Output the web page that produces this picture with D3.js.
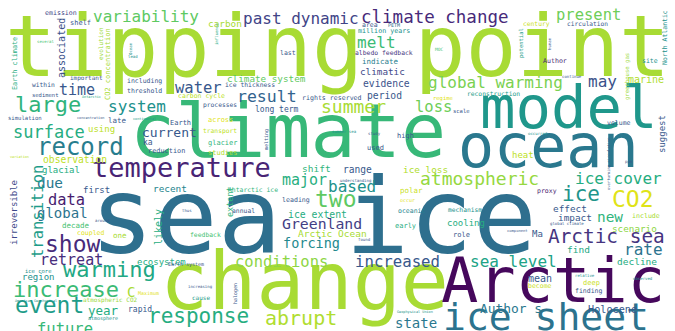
<!DOCTYPE html>
<html><head><meta charset="utf-8">
<script src="https://cdn.jsdelivr.net/npm/d3@7"></script>
<style>html,body{margin:0;padding:0;background:#fff;}svg{display:block}</style>
</head><body>
<svg id="chart" width="675" height="331"></svg>
<script>
// words of the cloud
const words = [
"tipping point","climate","sea ice","change","Arctic","model","ocean","ice sheet","temperature","CO2",
"ice","ice cover","atmospheric","two","major","record","large","system","surface","water",
"result","past dynamic","climate change","present","variability","melt","global warming","summer","loss","may",
"show","retreat","warming","increase","event","future","response","abrupt","conditions","increased",
"Greenland","forcing","Arctic sea","rate","sea level","new","state","data","due","global",
"transition","time","Author s","based","current","Holocene","decline","scenario","find","mean",
"effect","impact","heat","marine","site","Author","circulation","century","North Atlantic","greenhouse gas",
"potential","reconstruction","regime","scale","period","evidence","climatic","indicate","albedo feedback","million years",
"area","PETM","MOC","rights reserved","carbon cycle","processes","long term","ice thickness","climate system","last",
"carbon","shelf","emission","associated","evolution","CO2 concentration","Earth climate","important","within","sediment",
"including","threshold","simulation","late","using","ka","reduction","observation","glacial","first",
"recent","irreversible","likely","decade","coupled","one","ecosystem","ice core","region","C",
"Maximum","atmospheric CO2","year","rapid","atmosphere","Earth","across","transport","glacier","studies",
"melting","extent","Antarctic ice","leading","ice extent","annual","shift","range","ice loss","high",
"used","polar","occur","mechanism","oceanic","cooling","early","role","Arctic Ocean","feedback",
"Earth system","increasing","cause","halogen","proxy","volume","suggest","include","Ma","deep",
"become","finding","several","occurred","overturning circulation","component","global climate","relative","observed","Geophysical Union",
"American Geophysical","variation","understanding","study","summer sea","concentration","continental","Antarctic","thus","influence",
"human","continue","around","found","ppm","Ocean","lead"
];
// relative frequency (drawn as font size)
const weights = [
85,75,106,80,62,59,60,38,27,23,
21,16,18,23,15,24,22,16,17,15.5,
16.5,16,17.5,15.5,16,16,16,18,15.5,16,
23,15,22,22,23,15.5,21,20,15.5,15.7,
14.8,13.5,19.4,16,16,14.4,14,15.4,14.4,14,
15.5,15,12.9,16,13,10.2,9.5,9.3,9.5,10,
9.4,9.4,9,10,6.5,6.6,6.2,6.3,6.5,5.6,
5.5,6.3,5.5,5.5,9.7,9.7,9.3,7.5,6.4,6.7,
6.5,5,4.5,6.6,6.5,6.3,8,6.4,9.3,6.5,
9.4,7,6.6,10,6,7,6.8,6,6.3,5.5,
6.5,6.5,5.6,7.5,9,8,6.9,9.7,9,9,
9.4,9,10,7.5,6.5,7.5,9,5.5,9,14,
5,6,12.5,8,5,7,7,6.3,7,7,
5,8.5,6.4,6.6,9.8,6.4,9.5,9.6,9.4,7,
7,7.5,5,6.3,6.5,9,7,7,9.5,6.4,
5,4,6,5,6.5,6.5,9,6.6,9,7,
6.5,6.5,4,4,3.8,3.8,4,4,4,3.5,
3.5,3.5,4,4,4,3.5,3.5,3.5,4,4,
4,4,4,4,4,4,4
];
// position on the viridis colour map
const tones = [
.87,.67,.36,.87,.02,.53,.40,.38,.10,.95,
.52,.62,.84,.75,.63,.42,.65,.50,.62,.27,
.32,.20,.12,.78,.75,.68,.80,.87,.78,.25,
.12,.13,.60,.68,.55,.67,.62,.88,.83,.27,
.18,.47,.15,.38,.58,.65,.40,.08,.40,.38,
.55,.27,.40,.50,.27,.27,.62,.83,.60,.27,
.27,.27,.90,.88,.50,.08,.27,.92,.50,.85,
.55,.55,.95,.27,.27,.25,.22,.42,.15,.50,
.27,.35,.70,.27,.90,.27,.27,.27,.75,.27,
.87,.27,.20,.25,.85,.87,.62,.27,.27,.27,
.27,.27,.27,.27,.90,.27,.27,.90,.62,.27,
.45,.22,.62,.70,.95,.87,.62,.50,.50,.87,
.95,.85,.62,.27,.50,.27,.95,.90,.65,.88,
.27,.65,.65,.27,.62,.27,.65,.27,.88,.27,
.27,.92,.95,.50,.45,.62,.62,.27,.87,.70,
.27,.27,.55,.27,.08,.27,.27,.87,.27,.92,
.92,.27,.70,.50,.27,.27,.27,.50,.50,.50,
.50,.90,.27,.27,.50,.27,.55,.60,.27,.60,
.27,.27,.27,.27,.27,.50,.50
];
// cloud layout: [x, baseline y, vertical]
const cloudLayout = [
[5,76,0],[130,157,0],[90,253,0],[160,309,0],[441,302,0],[480,128,0],[458,167,0],[443,330,0],[92,177,0],[612,207,0],
[562,201,0],[575,184,0],[420,185,0],[315,207,0],[282,185,0],[37,155,0],[15,112,0],[108,112,0],[13,138,0],[175,93,0],
[237,102,0],[243,24,0],[361,23,0],[556,20,0],[93,22,0],[357,48,0],[428,88,0],[321,113,0],[415,112,0],[588,87,0],
[45,252,0],[40,265,0],[63,277,0],[13,297,0],[15,313,0],[37,334,0],[148,323,0],[265,325,0],[235,267,0],[355,267,0],
[282,229,0],[283,248,0],[548,243,0],[624,255,0],[470,267,0],[597,222,0],[395,328,0],[48,205,0],[37,188,0],[37,218,0],
[43,258,1],[59,95,0],[480,313,0],[328,192,0],[142,137,0],[588,313,0],[617,265,0],[612,232,0],[567,253,0],[528,282,0],
[553,212,0],[558,221,0],[512,158,0],[628,83,0],[642,63,0],[543,63,0],[567,26,0],[523,26,0],[667,65,1],[629,100,1],
[523,58,1],[467,96,0],[433,100,0],[453,113,0],[367,99,0],[363,87,0],[360,75,0],[362,64,0],[355,55,0],[358,33,0],
[362,27,0],[388,27,0],[435,51,0],[302,100,0],[178,98,0],[203,107,0],[255,112,0],[225,87,0],[227,82,0],[280,55,0],
[208,27,0],[70,25,0],[45,15,0],[65,78,1],[103,60,1],[110,100,1],[17,90,1],[70,80,0],[32,87,0],[32,97,0],
[127,83,0],[127,93,0],[8,120,0],[108,123,0],[88,132,0],[143,145,0],[148,153,0],[43,163,0],[42,173,0],[83,193,0],
[153,192,0],[17,245,1],[162,245,1],[62,228,0],[77,235,0],[113,238,0],[137,265,0],[25,273,0],[22,280,0],[127,297,0],
[138,295,0],[83,302,0],[88,315,0],[128,312,0],[88,320,0],[170,125,0],[208,122,0],[203,133,0],[208,145,0],[208,155,0],
[268,150,1],[233,217,1],[228,192,0],[282,202,0],[288,218,0],[232,213,0],[302,172,0],[343,173,0],[403,173,0],[397,138,0],
[367,150,0],[400,193,0],[400,202,0],[448,212,0],[398,213,0],[447,226,0],[395,228,0],[453,237,0],[298,237,0],[190,237,0],
[168,266,0],[188,288,0],[192,300,0],[237,304,1],[537,193,0],[607,125,0],[665,153,1],[632,218,0],[532,237,0],[583,285,0],
[528,288,0],[575,293,0],[37,43,0],[528,135,0],[610,190,1],[507,232,0],[550,225,0],[575,277,0],[633,280,0],[397,313,0],
[15,302,0],[10,158,0],[340,182,0],[368,135,0],[332,133,0],[77,119,0],[133,120,0],[82,98,0],[182,212,0],[218,45,1],
[551,50,1],[562,78,0],[95,222,0],[358,241,0],[625,163,0],[132,55,1],[128,58,0]
];

const W = 675, H = 331;
const svg = d3.select("#chart").attr("width", W).attr("height", H);
const x = d3.scaleLinear().domain([0, 675]).range([0, W]);
const y = d3.scaleLinear().domain([0, 331]).range([0, H]);
const size = d3.scaleLinear().domain([0, 100]).range([0, 100]);
const color = d3.scaleSequential(d3.interpolateViridis).domain([0, 1]);

const data = words.map((w, i) => ({
  text: w, weight: weights[i], tone: tones[i],
  px: cloudLayout[i][0], py: cloudLayout[i][1], rot: cloudLayout[i][2]
}));

svg.append("rect").attr("width", W).attr("height", H).attr("fill", "#fff");
svg.append("g").selectAll("text").data(data).join("text")
  .attr("transform", d => `translate(${x(d.px)},${y(d.py)})` + (d.rot ? " rotate(-90)" : ""))
  .attr("font-family", "'DejaVu Sans Mono', monospace")
  .attr("font-size", d => size(d.weight))
  .attr("fill", d => color(d.tone))
  .attr("text-anchor", "start")
  .style("white-space", "pre")
  .text(d => d.text);
</script>
</body></html>
